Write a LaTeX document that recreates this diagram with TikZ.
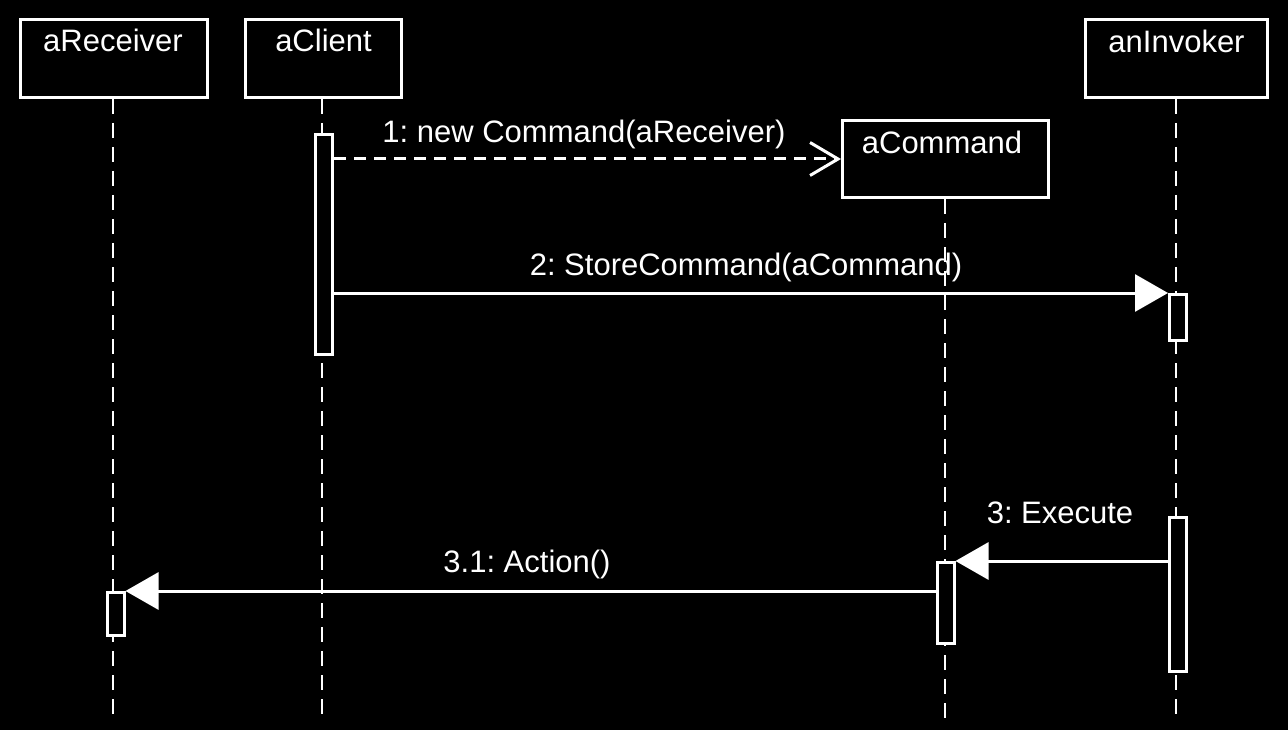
\documentclass[tikz,border=0pt]{standalone}
\usepackage{fontspec}
\setmainfont{Liberation Sans}
\usetikzlibrary{arrows.meta,calc}
\frenchspacing
\begin{document}
\begin{tikzpicture}[x=1pt,y=-1pt,
  actor/.style={draw=white,line width=3pt,fill=black,rectangle,inner sep=0pt},
  act/.style={draw=white,line width=3pt,fill=black,rectangle,inner sep=0pt,minimum width=17pt},
  txt/.style={text=white,anchor=base,inner sep=0pt,font=\fontsize{31}{37}\selectfont},
  life/.style={draw=white,line width=2pt,dash pattern=on 15pt off 9pt},
  msg/.style={draw=white,line width=3pt,-{Triangle[length=33pt,width=37pt]}},
  create/.style={draw=white,line width=3pt,dash pattern=on 12pt off 8pt,-{Straight Barb[length=28pt,width=33pt]}}]
\path[use as bounding box,fill=black] (0,0) rectangle (1288,730);
% actor boxes
\node[actor,minimum width=187pt,minimum height=78pt] (rec) at (114,58.5) {};
\node[actor,minimum width=156pt,minimum height=78pt] (cli) at (323.5,58.5) {};
\node[actor,minimum width=206pt,minimum height=77pt] (cmd) at (945.5,159) {};
\node[actor,minimum width=182pt,minimum height=78pt] (inv) at (1176.5,58.5) {};
\node[txt] (recT) at (113,52) {aReceiver};
\node[txt] (cliT) at (323.5,52) {aClient};
\node[txt] (cmdT) at (942,154) {aCommand};
\node[txt] (invT) at (1176.5,53) {anInvoker};
% lifeline ends
\coordinate (recE) at (113,718);
\coordinate (cliE) at (322,718);
\coordinate (cmdE) at (945,718);
\coordinate (invE) at (1176,718);
\draw[life] (rec.south -| recE) -- (recE);
\draw[life] (cli.south -| cliE) -- (cliE);
\draw[life] (cmd.south -| cmdE) -- (cmdE);
\draw[life] (inv.south -| invE) -- (invE);
% activations
\node[act,minimum height=220pt] (cliA) at (324,244.5) {};
\node[act,minimum height=46pt] (invA1) at (1178,317.5) {};
\node[act,minimum height=154pt] (invA2) at (1177.5,594.5) {};
\node[act,minimum height=81pt] (cmdA) at (945.5,603) {};
\node[act,minimum height=43pt] (recA) at (115.5,614) {};
% messages
\draw[create] (cliA.east |- cmd.west) -- (cmd.west);
\node[txt] (m1) at (584,143) {1: new Command(aReceiver)};
\draw[msg] (cliA.east |- invA1.north west) -- (invA1.north west);
\node[txt] (m2) at (746,276) {2: StoreCommand(aCommand)};
\draw[msg] (invA2.west |- cmdA.north east) -- (cmdA.north east);
\node[txt] (m3) at (1060,523) {3: Execute};
\draw[msg] (cmdA.west |- recA.north east) -- (recA.north east);
\node[txt] (m31) at (527,572) {3.1: Action()};
\end{tikzpicture}
\end{document}
